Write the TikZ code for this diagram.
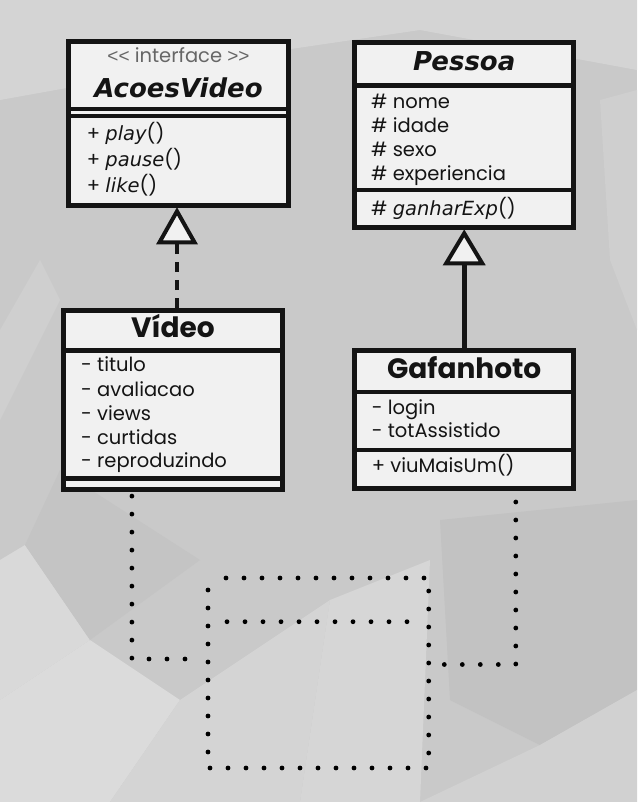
\documentclass[tikz,border=0pt]{standalone}
\usepackage{fontspec}
\newfontfamily\pop{Poppins}
\newfontfamily\dvs{DejaVu Sans}
\newfontfamily\lsans{Liberation Sans}
\definecolor{boxfill}{HTML}{F1F1F1}
\definecolor{ink}{HTML}{141414}
\definecolor{bgbase}{HTML}{C9C9C9}
\tikzset{
  classbox/.style={draw=ink, fill=boxfill, line width=4.6pt, inner sep=0pt, rectangle},
  divider/.style={draw=ink, line width=4.3pt},
  ctitle/.style={inner sep=0pt, text=ink, font=\dvs\bfseries\itshape\fontsize{26}{30}\selectfont},
  ptitle/.style={inner sep=0pt, text=ink, font=\pop\bfseries\fontsize{28}{32}\selectfont},
  attr/.style={inner sep=0pt, anchor=base west, text=ink, font=\pop\fontsize{19.5}{23}\selectfont},
  stereo/.style={inner sep=0pt, anchor=base, text=black!60, font=\pop\fontsize{19.5}{22}\selectfont},
  realize/.style={draw=ink, line width=4.6pt, dash pattern=on 10pt off 8pt},
  gener/.style={draw=ink, line width=4.6pt},
  tri/.style={draw=ink, fill=boxfill, line width=4pt, line join=miter},
  dotline/.style={draw=black, line width=4.8pt, line cap=round, dash pattern=on 0pt off 18pt},
}
\newcommand{\meth}[1]{{\dvs\itshape #1}}
\newcommand{\guil}[1]{{\lsans\fontsize{19}{22}\selectfont #1}}
\begin{document}
\begin{tikzpicture}[x=1pt,y=-1pt]
\useasboundingbox (0,0) rectangle (637,802);
% background
\fill[bgbase] (0,0) rectangle (637,802);
\fill[black!17] (0,0) -- (637,0) -- (637,70) -- (420,30) -- (250,55) -- (0,100) -- cycle;
\fill[black!21] (0,110) -- (70,150) -- (40,260) -- (0,330) -- cycle;
\fill[black!19] (0,330) -- (40,260) -- (60,300) -- (0,420) -- cycle;
\fill[black!15] (0,560) -- (25,545) -- (90,640) -- (0,700) -- cycle;
\fill[black!14] (90,640) -- (180,700) -- (110,802) -- (0,802) -- (0,700) -- cycle;
\fill[black!17] (180,700) -- (330,600) -- (300,802) -- (110,802) -- cycle;
\fill[black!16] (330,600) -- (430,560) -- (420,802) -- (300,802) -- cycle;
\fill[black!24] (440,520) -- (637,500) -- (637,690) -- (540,745) -- (450,700) -- cycle;
\fill[black!18] (540,745) -- (637,690) -- (637,802) -- (420,802) -- cycle;
\fill[black!23] (60,470) -- (200,560) -- (90,640) -- (25,545) -- cycle;
\fill[black!19] (600,100) -- (637,90) -- (637,330) -- (610,260) -- cycle;

% class boxes
\node[classbox, minimum width=220pt, minimum height=164pt] (acoes) at (178.5,123.5) {};
\node[classbox, minimum width=219pt, minimum height=185pt] (pessoa) at (464.2,135) {};
\node[classbox, minimum width=219pt, minimum height=179pt] (video) at (173,400) {};
\node[classbox, minimum width=219pt, minimum height=138pt] (gafa) at (464.2,419.4) {};

% dividers
\draw[divider] (66,108.8) -- (291,108.8);
\draw[divider] (66,115.7) -- (291,115.7);
\draw[divider] (352.3,85.5) -- (576,85.5);
\draw[divider] (352.3,190.3) -- (576,190.3);
\draw[divider] (61,350.5) -- (285,350.5);
\draw[divider] (61,478.5) -- (285,478.5);
\draw[divider] (352.3,392) -- (576,392);
\draw[divider] (352.3,449.8) -- (576,449.8);

% AcoesVideo
\node[stereo] (st) at (178.5,62.3) {\guil{<<} interface \guil{>>}};
\node[ctitle, anchor=base] (tA) at (178.5,97.3) {AcoesVideo};
\node[attr] (m1) at (86.7,141) {+ \meth{play}()};
\node[attr] (m2) at (86.7,166.7) {+ \meth{pause}()};
\node[attr] (m3) at (86.7,192.7) {+ \meth{like}()};

% Pessoa
\node[ctitle, anchor=base] (tP) at (464.2,71) {Pessoa};
\node[attr] (p1) at (371,108.3) {\# nome};
\node[attr] (p2) at (371,132.3) {\# idade};
\node[attr] (p3) at (371,156.7) {\# sexo};
\node[attr] (p4) at (371,180.7) {\# experiencia};
\node[attr] (p5) at (371,216) {\# \meth{ganharExp}()};

% Video
\node[ptitle, anchor=base] (tV) at (173,337.3) {Vídeo};
\node[attr] (v1) at (81,371.7) {- titulo};
\node[attr] (v2) at (81,396) {- avaliacao};
\node[attr] (v3) at (81,420) {- views};
\node[attr] (v4) at (81,444.3) {- curtidas};
\node[attr] (v5) at (81,467.7) {- reproduzindo};

% Gafanhoto
\node[ptitle, anchor=base] (tG) at (464.2,378.3) {Gafanhoto};
\node[attr] (g1) at (371.7,414) {- login};
\node[attr] (g2) at (371.7,437.3) {- totAssistido};
\node[attr] (g3) at (371.7,472.7) {+ viuMaisUm()};

% relations: realization (Video -> AcoesVideo)
\coordinate (aTip) at ([xshift=-1.5pt,yshift=-3.5pt]acoes.south);
\coordinate (aBase) at ([yshift=-31pt]aTip);
\draw[realize] (video.north -| aTip) -- (aBase);
\draw[tri] (aTip) -- ++(-17.5,31) -- ++(35,0) -- cycle;
% generalization (Gafanhoto -> Pessoa)
\coordinate (pTip) at ([yshift=-3.5pt]pessoa.south);
\coordinate (pBase) at ([yshift=-30pt]pTip);
\draw[gener] (gafa.north) -- (pBase);
\draw[tri] (pTip) -- ++(-18,30) -- ++(36,0) -- cycle;

% dotted sketch
\coordinate (l1) at (186,659);
\coordinate (r1) at (443,664.5);
\draw[dotline] ([xshift=70.7pt,yshift=-4.3pt]video.south west) |- (l1);
\draw[dotline] ([xshift=163.4pt,yshift=-11.3pt]gafa.south west) |- (r1);
\draw[dotline] (226,578) -- (424,578);
\draw[dotline] (428.7,591) -- (428.7,753);
\draw[dotline] (210,768) -- (426,768);
\draw[dotline] (208,590) -- (208,753);
\draw[dotline] (227,621.7) -- (407,621.7);
\end{tikzpicture}
\end{document}
